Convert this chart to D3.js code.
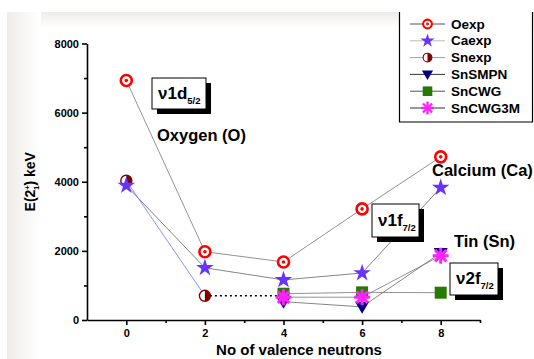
<!DOCTYPE html>
<html>
<head>
<meta charset="utf-8">
<script src="https://cdn.jsdelivr.net/npm/d3@7"></script>
<style>
  body { margin: 0; background: #fff; }
  svg { display: block; font-family: Arial, "Liberation Sans", sans-serif; }
</style>
</head>
<body>
<svg id="chart" width="534" height="359"></svg>
<script>
// Data
const neutrons = [0, 2, 4, 6, 8];
const oExp = [6930, 1975, 1680, 3215, 4720];
const caExp = [3890, 1510, 1160, 1360, 3830];
const snExpX = [0, 2];
const snExp = [4030, 700];
const snX = [4, 6, 8];
const snSMPN = [530, 380, 1940];
const snCWG = [760, 800, 790];
const snCWG3M = [660, 660, 1860];
const xTicks = [0, 2, 4, 6, 8];
const yTicks = [0, 2000, 4000, 6000, 8000];

const svg = d3.select("#chart");

// Slide-like frame behind the plot
const defs = svg.append("defs");
const gl = defs.append("linearGradient").attr("id", "gl").attr("x1", 0).attr("x2", 1);
gl.append("stop").attr("offset", 0).attr("stop-color", "#eeece8");
gl.append("stop").attr("offset", 1).attr("stop-color", "#fff");
const gt = defs.append("linearGradient").attr("id", "gt").attr("x1", 0).attr("x2", 0).attr("y1", 0).attr("y2", 1);
gt.append("stop").attr("offset", 0).attr("stop-color", "#eeece8");
gt.append("stop").attr("offset", 1).attr("stop-color", "#fff");
svg.append("rect").attr("x", 7).attr("y", 12).attr("width", 527).attr("height", 16).attr("fill", "url(#gt)");
svg.append("rect").attr("x", 7).attr("y", 12).attr("width", 34).attr("height", 347).attr("fill", "url(#gl)");

const x = d3.scaleLinear().domain([-1, 9]).range([87, 480]);
const y = d3.scaleLinear().domain([0, 8000]).range([320, 43.5]);

// Axes
svg.append("g").attr("transform", `translate(0,${y(0)})`)
  .call(d3.axisBottom(x).tickValues(xTicks).tickSize(5).tickSizeOuter(0).tickPadding(4).tickFormat(d3.format("d")));
svg.append("g").attr("transform", `translate(0,${y(0)})`)
  .call(d3.axisBottom(x).tickValues([1, 3, 5, 7, 9]).tickSize(3).tickFormat("").tickSizeOuter(0))
  .select(".domain").remove();
svg.append("g").attr("transform", `translate(${x(-1)},0)`)
  .call(d3.axisLeft(y).tickValues(yTicks).tickSize(5).tickSizeOuter(0).tickPadding(3).tickFormat(d3.format("d")));
svg.append("g").attr("transform", `translate(${x(-1)},0)`)
  .call(d3.axisLeft(y).tickValues([1000, 3000, 5000, 7000]).tickSize(3).tickFormat(""))
  .select(".domain").remove();
svg.selectAll(".domain, .tick line").attr("stroke", "#000").attr("stroke-width", 1.6);
svg.selectAll(".tick text").attr("font-size", 11).attr("font-weight", "bold").attr("fill", "#000")
  .attr("font-family", "Arial, 'Liberation Sans', sans-serif");

svg.append("text").attr("x", 299).attr("y", 355).attr("text-anchor", "middle")
  .attr("font-size", 15).attr("font-weight", "bold").text("No of valence neutrons");
const yl = svg.append("text").attr("transform", `translate(35,${y(4000)}) rotate(-90)`)
  .attr("text-anchor", "middle").attr("font-size", 14).attr("font-weight", "bold");
yl.append("tspan").text("E(2");
yl.append("tspan").attr("font-size", 8).attr("dy", -5).text("+");
yl.append("tspan").attr("font-size", 8).attr("dy", 9).attr("dx", -5).text("1");
yl.append("tspan").attr("dy", -4).text(") keV");

// Lines
const line = d3.line().x(d => x(d[0])).y(d => y(d[1]));
function drawLine(xs, ys, color, dash) {
  svg.append("path").attr("d", line(xs.map((v, i) => [v, ys[i]])))
    .attr("fill", "none").attr("stroke", color).attr("stroke-width", dash ? 1.6 : 0.8)
    .attr("stroke-dasharray", dash || null);
}
drawLine(neutrons, oExp, "#777");
drawLine(neutrons, caExp, "#666");
drawLine(snExpX, snExp, "#6a7cff");
drawLine([2, 4], [snExp[1], snExp[1]], "#000", "2,3");
drawLine(snX, snCWG, "#777");
drawLine(snX, snSMPN, "#666");
drawLine(snX, snCWG3M, "#777");

// Marker drawers
const star = d3.symbol().type(d3.symbolStar).size(95);
const markers = {
  oexp(g) {
    g.append("circle").attr("r", 5.5).attr("fill", "#fff").attr("stroke", "#ff0000").attr("stroke-width", 2.6);
    g.append("circle").attr("r", 1.8).attr("fill", "#ff0000");
  },
  caexp(g) {
    g.append("path").attr("d", star()).attr("fill", "#6633ff");
  },
  snexp(g) {
    g.append("circle").attr("r", 5.5).attr("fill", "#fff").attr("stroke", "#800000").attr("stroke-width", 1.4);
    g.append("path").attr("d", d3.arc()({ innerRadius: 0, outerRadius: 5.5, startAngle: 0, endAngle: Math.PI }))
      .attr("fill", "#800000");
  },
  snsmpn(g) {
    g.append("path").attr("d", "M-7,-5L7,-5L0,7Z").attr("fill", "#000080");
  },
  sncwg(g) {
    g.append("rect").attr("x", -6).attr("y", -6).attr("width", 12).attr("height", 12).attr("fill", "#267a00");
  },
  sncwg3m(g) {
    for (let a = 0; a < 4; a++) {
      const t = a * Math.PI / 4;
      g.append("line").attr("x1", -8 * Math.cos(t)).attr("y1", -8 * Math.sin(t))
        .attr("x2", 8 * Math.cos(t)).attr("y2", 8 * Math.sin(t))
        .attr("stroke", "#ff22ff").attr("stroke-width", 3);
    }
  }
};
function drawMarkers(xs, ys, kind) {
  xs.forEach((v, i) => {
    markers[kind](svg.append("g").attr("transform", `translate(${x(v)},${y(ys[i])})`));
  });
}
drawMarkers(neutrons, oExp, "oexp");
drawMarkers(snExpX, snExp, "snexp");
drawMarkers(neutrons, caExp, "caexp");
drawMarkers(snX, snSMPN, "snsmpn");
drawMarkers(snX, snCWG, "sncwg");
drawMarkers(snX, snCWG3M, "sncwg3m");

// Annotation boxes
function orbitalBox(bx, by, w, h, main, sub) {
  svg.append("rect").attr("x", bx + 5).attr("y", by + 5).attr("width", w).attr("height", h).attr("fill", "#000");
  svg.append("rect").attr("x", bx).attr("y", by).attr("width", w).attr("height", h)
    .attr("fill", "#fff").attr("stroke", "#000").attr("stroke-width", 1);
  const t = svg.append("text").attr("x", bx + 6).attr("y", by + h / 2 + 5)
    .attr("font-size", 17).attr("font-weight", "bold");
  t.append("tspan").text(main);
  t.append("tspan").attr("font-size", 9.5).attr("dy", 5).text(sub);
}
orbitalBox(152, 78, 54, 31, "\u03bd1d", "5/2");
orbitalBox(372, 204, 47, 33, "\u03bd1f", "7/2");
orbitalBox(450, 263, 48, 32, "\u03bd2f", "7/2");

const labels = [["Oxygen (O)", 157, 141], ["Calcium (Ca)", 432, 176], ["Tin (Sn)", 454, 247]];
labels.forEach(l => svg.append("text").attr("x", l[1]).attr("y", l[2])
  .attr("font-size", 16.5).attr("font-weight", "bold").text(l[0]));

// Legend (top edge cut off by the crop)
const legendNames = ["Oexp", "Caexp", "Snexp", "SnSMPN", "SnCWG", "SnCWG3M"];
const legendKinds = ["oexp", "caexp", "snexp", "snsmpn", "sncwg", "sncwg3m"];
const legendLines = ["#555", "#bbb", "#8899ff", "#333", "#555", "#333"];
svg.append("rect").attr("x", 399.5).attr("y", 0).attr("width", 134.5).attr("height", 12).attr("fill", "#fff");
svg.append("rect").attr("x", 399.5).attr("y", 12).attr("width", 133).attr("height", 110).attr("fill", "#fff");
svg.append("path").attr("d", "M399.5,12V122H532.5V12").attr("fill", "none")
  .attr("stroke", "#000").attr("stroke-width", 1.2);
legendNames.forEach((n, i) => {
  const ly = 24 + i * 16.8;
  svg.append("line").attr("x1", 410).attr("x2", 445).attr("y1", ly).attr("y2", ly)
    .attr("stroke", legendLines[i]).attr("stroke-width", 1);
  const g = svg.append("g").attr("transform", `translate(427.5,${ly}) scale(0.8)`);
  markers[legendKinds[i]](g);
  svg.append("text").attr("x", 451).attr("y", ly + 4.5).attr("font-size", 13.5)
    .attr("font-weight", "bold").text(n);
});
</script>
</body>
</html>
